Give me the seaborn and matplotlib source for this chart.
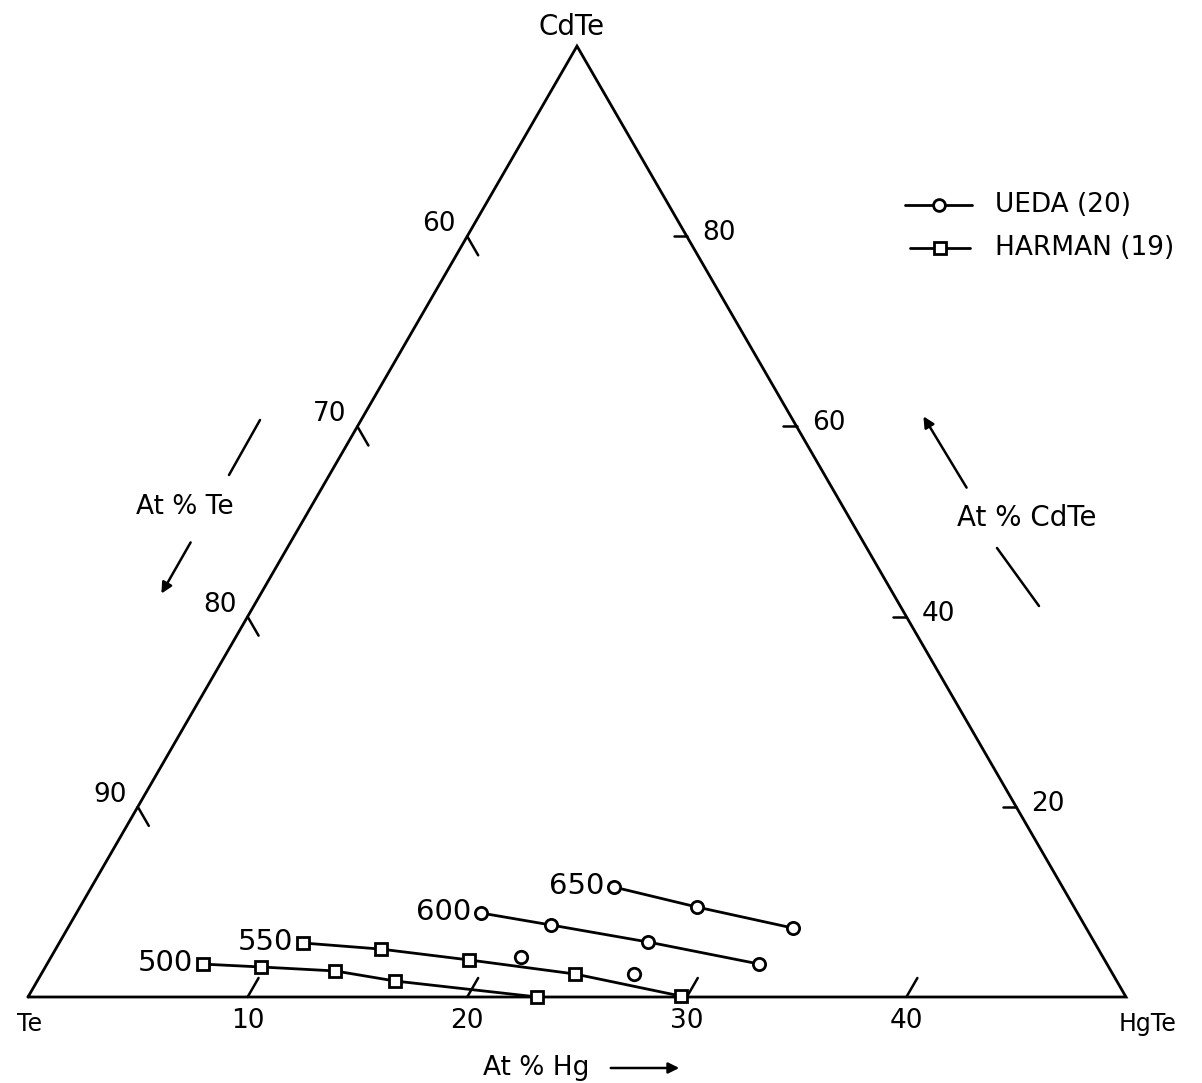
import numpy as np
import pandas as pd
import seaborn as sns
import matplotlib.pyplot as plt

# -----------------------------
# Data (at% Hg, at% Cd)
# -----------------------------
harman_500_hg = [7.1, 9.8, 13.3, 16.3, 23.2]
harman_500_cd = [1.73, 1.58, 1.37, 0.84, 0.0]

harman_550_hg = [11.1, 14.8, 19.1, 24.3, 29.7]
harman_550_cd = [2.84, 2.52, 1.95, 1.21, 0.05]

ueda_600_hg = [18.4, 21.9, 26.8, 32.4]
ueda_600_cd = [4.42, 3.79, 2.89, 1.74]

ueda_650_hg = [23.8, 28.1, 33.0]
ueda_650_cd = [5.78, 4.73, 3.63]

ueda_single_hg = [21.4, 27.0]
ueda_single_cd = [2.10, 1.21]

hg_ticks = [10, 20, 30, 40]
te_ticks = [60, 70, 80, 90]
cdte_ticks = [20, 40, 60, 80]

S3 = np.sqrt(3) / 2
PX = 1098.0  # pixels per unit of triangle base


def to_xy(at_hg, at_cd):
    h = np.asarray(at_hg, float) / 50.0
    c = np.asarray(at_cd, float) / 50.0
    return h + c / 2, c * S3


def px(x, y):
    # pixel position of the picture -> data coords
    return (x - 28) / PX, (997 - y) / PX


sns.set_style("white")
plt.rcParams["font.family"] = ["DejaVu Sans"]
plt.rcParams["text.color"] = "black"

fig = plt.figure(figsize=(12.02, 10.83), dpi=100)
ax = fig.add_axes([0, 0, 1, 1])
ax.set_xlim(-28 / PX, (1202 - 28) / PX)
ax.set_ylim(-(1083 - 997) / PX, 997 / PX)
ax.axis("off")

LW = 2.0
# triangle
ax.plot([0, 1, 0.5, 0], [0, 0, S3, 0], color="black", lw=LW, solid_joinstyle="miter")

# ticks + labels
FS = 19
L = 0.02
for v in hg_ticks:
    x0 = v / 50.0
    ax.plot([x0, x0 + L * 0.5], [0, L * S3], color="black", lw=LW * 0.9)
    ax.text(x0, -24 / PX, str(v), ha="center", va="center", fontsize=FS)
for v in te_ticks:
    c = (100 - v) / 50.0
    x0, y0 = c / 2, c * S3
    ax.plot([x0, x0 + L * 0.5], [y0, y0 - L * S3], color="black", lw=LW * 0.9)
    ax.text(x0 - 28 / PX, y0 + 12 / PX, str(v), ha="center", va="center", fontsize=FS)
for v in cdte_ticks:
    c = v / 100.0
    x0, y0 = 1 - c / 2, c * S3
    ax.plot([x0, x0 - 0.012], [y0, y0], color="black", lw=LW * 0.9)
    ax.text(x0 + 32 / PX, y0 + 3 / PX, str(v), ha="center", va="center", fontsize=FS)

# corners
ax.text(*px(572, 27), "CdTe", ha="center", va="center", fontsize=20)
ax.text(*px(30, 1024), "Te", ha="center", va="center", fontsize=17)
ax.text(*px(1148, 1024), "HgTe", ha="center", va="center", fontsize=17)

# axis titles
ax.text(*px(536, 1068), "At % Hg", ha="center", va="center", fontsize=19)
ax.annotate("", xy=px(682, 1068), xytext=px(608, 1068),
            arrowprops=dict(arrowstyle="-|>", color="black", lw=1.8, mutation_scale=16))
ax.text(*px(185, 507), "At % Te", ha="center", va="center", fontsize=19)
ax.plot(*zip(px(260, 420), px(229, 475)), color="black", lw=1.8)
ax.annotate("", xy=px(160, 596), xytext=px(192, 540),
            arrowprops=dict(arrowstyle="-|>", color="black", lw=1.8, mutation_scale=16))
ax.text(*px(1027, 518), "At % CdTe", ha="center", va="center", fontsize=20)
ax.annotate("", xy=px(922, 414), xytext=px(968, 490),
            arrowprops=dict(arrowstyle="-|>", color="black", lw=1.8, mutation_scale=16))
ax.plot(*zip(px(997, 548), px(1039, 606)), color="black", lw=1.8)

# data series
series = [
    ("500", harman_500_hg, harman_500_cd, "s"),
    ("550", harman_550_hg, harman_550_cd, "s"),
    ("600", ueda_600_hg, ueda_600_cd, "o"),
    ("650", ueda_650_hg, ueda_650_cd, "o"),
]
for name, hg, cd, mk in series:
    xs, ys = to_xy(hg, cd)
    df = pd.DataFrame({"x": xs, "y": ys})
    sns.lineplot(data=df, x="x", y="y", sort=False, ax=ax, color="black", lw=LW,
                 marker=mk, markersize=9 if mk == "s" else 8.8, markerfacecolor="white",
                 markeredgecolor="black", markeredgewidth=2.0)
    ax.annotate(name, (xs[0], ys[0]), xytext=(-7, 1), textcoords="offset points",
                ha="right", va="center", fontsize=21)

xs, ys = to_xy(ueda_single_hg, ueda_single_cd)
sns.scatterplot(x=xs, y=ys, ax=ax, marker="o", s=80, facecolor="white",
                edgecolor="black", linewidth=2.0, zorder=3)

# legend (drawn by hand)
for (ly, mk, lab) in [(205, "o", "UEDA (20)"), (248, "s", "HARMAN (19)")]:
    lx0, ly0 = px(905 if mk == "o" else 910, ly)
    lx1, _ = px(972 if mk == "o" else 970, ly)
    ax.plot([lx0, lx1], [ly0, ly0], color="black", lw=LW)
    ax.plot([(lx0 + lx1) / 2], [ly0], marker=mk, markersize=8.5, markerfacecolor="white",
            markeredgecolor="black", markeredgewidth=2.0)
    ax.text(*px(995, ly), lab, ha="left", va="center", fontsize=19)

fig.savefig("out.png", dpi=100)
